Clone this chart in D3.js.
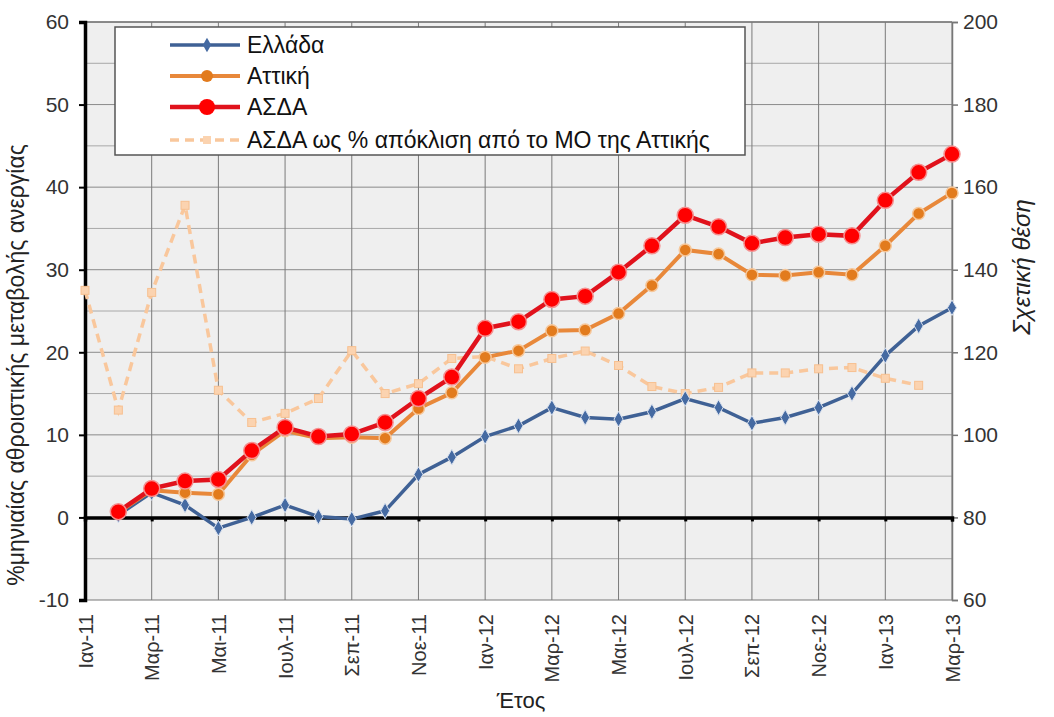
<!DOCTYPE html>
<html><head><meta charset="utf-8">
<script src="https://cdn.jsdelivr.net/npm/d3@7"></script>
<style>
body{margin:0;background:#fff;}
text{font-family:"Liberation Sans",Arial,sans-serif;}
</style></head>
<body><svg id="c" width="1054" height="717"></svg>
<script>
const months = ["Ιαν-11","Φεβ-11","Μαρ-11","Απρ-11","Μαι-11","Ιουν-11","Ιουλ-11","Αυγ-11","Σεπ-11","Οκτ-11","Νοε-11","Δεκ-11",
"Ιαν-12","Φεβ-12","Μαρ-12","Απρ-12","Μαι-12","Ιουν-12","Ιουλ-12","Αυγ-12","Σεπ-12","Οκτ-12","Νοε-12","Δεκ-12",
"Ιαν-13","Φεβ-13","Μαρ-13"];
const tickLabels = ["Ιαν-11","Μαρ-11","Μαι-11","Ιουλ-11","Σεπ-11","Νοε-11","Ιαν-12","Μαρ-12","Μαι-12","Ιουλ-12","Σεπ-12","Νοε-12","Ιαν-13","Μαρ-13"];
const greece = [null,0.3,3.0,1.5,-1.3,0.0,1.5,0.1,-0.2,0.8,5.2,7.3,9.8,11.1,13.3,12.1,11.9,12.8,14.4,13.3,11.4,12.1,13.3,15.0,19.6,23.2,25.4];
const attica = [null,0.6,3.3,3.0,2.8,7.6,10.5,9.6,9.7,9.6,13.2,15.1,19.4,20.2,22.6,22.7,24.7,28.1,32.4,31.9,29.4,29.3,29.7,29.4,32.9,36.8,39.3];
const asda = [null,0.7,3.5,4.4,4.6,8.1,10.9,9.8,10.1,11.5,14.4,17.0,22.9,23.7,26.4,26.8,29.7,32.9,36.6,35.2,33.2,33.9,34.3,34.1,38.4,41.8,44.0];
const deviation = [135,106,134.5,155.6,110.8,103,105.2,108.8,120.4,110,112.4,118.5,119,116,118.5,120.3,116.8,111.7,110,111.5,115,115,116,116.3,113.7,112,null];
const seriesNames = ["Ελλάδα","Αττική","ΑΣΔΑ","ΑΣΔΑ ως % απόκλιση από το ΜΟ της Αττικής"];
const leftTicks = [-10,0,10,20,30,40,50,60];
const rightTicks = [60,80,100,120,140,160,180,200];

const svg = d3.select("#c");
const L=85,R=952,T=22,B=600;
const x = d3.scalePoint().domain(months).range([L,R]);
const y = d3.scaleLinear().domain([-10,60]).range([B,T]);
const y2 = d3.scaleLinear().domain([60,200]).range([B,T]);

svg.append("rect").attr("x",L).attr("y",T).attr("width",R-L).attr("height",B-T).attr("fill","#efefef");
svg.append("g").selectAll("line").data(d3.range(-5,61,5)).join("line")
 .attr("x1",L).attr("x2",R).attr("y1",d=>y(d)).attr("y2",d=>y(d))
 .attr("stroke",d=>d%10===0?"#8a8a8a":"#a8a8a8").attr("stroke-width",1);
svg.append("g").selectAll("line").data(tickLabels).join("line")
 .attr("x1",d=>x(d)).attr("x2",d=>x(d)).attr("y1",T).attr("y2",B)
 .attr("stroke","#7a7a7a").attr("stroke-width",1);
svg.append("line").attr("x1",L).attr("x2",R).attr("y1",B).attr("y2",B).attr("stroke","#777");
svg.append("line").attr("x1",L).attr("x2",R).attr("y1",T).attr("y2",T).attr("stroke","#777").attr("stroke-width",1.5);

const la = svg.append("g").attr("transform",`translate(${L},0)`)
 .call(d3.axisLeft(y).tickValues(leftTicks).tickFormat(d=>String(d)).tickSize(6).tickPadding(10));
la.select(".domain").attr("stroke","#000").attr("stroke-width",3.5);
la.selectAll(".tick line").attr("stroke","#000").attr("stroke-width",2);
la.selectAll("text").attr("font-size",21).attr("fill","#333");

const ra = svg.append("g").attr("transform",`translate(${R},0)`)
 .call(d3.axisRight(y2).tickValues(rightTicks).tickFormat(d=>String(d)).tickSize(6).tickPadding(5));
ra.select(".domain").attr("stroke","#777").attr("stroke-width",1.5);
ra.selectAll(".tick line").attr("stroke","#777").attr("stroke-width",1.5);
ra.selectAll("text").attr("font-size",21).attr("fill","#333");

const xa = svg.append("g").attr("transform",`translate(0,${y(0)})`)
 .call(d3.axisBottom(x).tickValues(tickLabels).tickSize(4).tickFormat(""));
xa.select(".domain").attr("stroke","#000").attr("stroke-width",3.5);
xa.selectAll(".tick line").attr("stroke","#000").attr("stroke-width",3);
const xb = svg.append("g").attr("transform",`translate(0,${B})`)
 .call(d3.axisBottom(x).tickValues(tickLabels).tickSize(0).tickPadding(0));
xb.select(".domain").remove();
xb.selectAll("text").attr("font-size",20).attr("fill","#333")
 .attr("transform","rotate(-90)").attr("text-anchor","end").attr("dx","-14").attr("dy","0.35em").attr("y",0);

const line = d3.line().defined(d=>d!=null).x((d,i)=>x(months[i])).y(d=>y(d));
const line2 = d3.line().defined(d=>d!=null).x((d,i)=>x(months[i])).y(d=>y2(d));

const devC="#f9c79c";
svg.append("path").attr("d",line2(deviation)).attr("fill","none").attr("stroke",devC).attr("stroke-width",3.5).attr("stroke-dasharray","9,6");
svg.append("g").selectAll("rect").data(deviation.map((v,i)=>[v,i]).filter(d=>d[0]!=null)).join("rect")
 .attr("x",d=>x(months[d[1]])-4).attr("y",d=>y2(d[0])-4).attr("width",8).attr("height",8).attr("fill","#fbd3b0").attr("stroke","#f7c090");

const blueC="#3f6195";
svg.append("path").attr("d",line(greece)).attr("fill","none").attr("stroke",blueC).attr("stroke-width",3.5);
svg.append("g").selectAll("path").data(greece.map((v,i)=>[v,i]).filter(d=>d[0]!=null)).join("path")
 .attr("d",d3.symbol(d3.symbolDiamond,70)).attr("transform",d=>`translate(${x(months[d[1]])},${y(d[0])})`)
 .attr("fill","#456aa2").attr("stroke","#d9e1ee").attr("stroke-width",1);

const orC="#e8883a";
svg.append("path").attr("d",line(attica)).attr("fill","none").attr("stroke",orC).attr("stroke-width",4);
svg.append("g").selectAll("circle").data(attica.map((v,i)=>[v,i]).filter(d=>d[0]!=null)).join("circle")
 .attr("cx",d=>x(months[d[1]])).attr("cy",d=>y(d[0])).attr("r",6).attr("fill","#e27b1d").attr("stroke","#f6c79a").attr("stroke-width",1.5);

const redC="#e0121c";
svg.append("path").attr("d",line(asda)).attr("fill","none").attr("stroke",redC).attr("stroke-width",4.5);
svg.append("g").selectAll("circle").data(asda.map((v,i)=>[v,i]).filter(d=>d[0]!=null)).join("circle")
 .attr("cx",d=>x(months[d[1]])).attr("cy",d=>y(d[0])).attr("r",8).attr("fill","#ff0000").attr("stroke","#f59090").attr("stroke-width",1.5);

const lg = svg.append("g");
lg.append("rect").attr("x",115).attr("y",27).attr("width",630).attr("height",128).attr("fill","#fff").attr("stroke","#555").attr("stroke-width",1.5);
const rows=[45,76,107,140];
const lx1=170,lx2=240,lm=207;
lg.append("line").attr("x1",lx1).attr("x2",lx2).attr("y1",rows[0]).attr("y2",rows[0]).attr("stroke",blueC).attr("stroke-width",3.5);
lg.append("path").attr("d",d3.symbol(d3.symbolDiamond,60)).attr("transform",`translate(${lm},${rows[0]})`).attr("fill","#456aa2");
lg.append("line").attr("x1",lx1).attr("x2",lx2).attr("y1",rows[1]).attr("y2",rows[1]).attr("stroke",orC).attr("stroke-width",4);
lg.append("circle").attr("cx",lm).attr("cy",rows[1]).attr("r",6).attr("fill","#e27b1d");
lg.append("line").attr("x1",lx1).attr("x2",lx2).attr("y1",rows[2]).attr("y2",rows[2]).attr("stroke",redC).attr("stroke-width",4.5);
lg.append("circle").attr("cx",lm).attr("cy",rows[2]).attr("r",8).attr("fill","#ff0000");
lg.append("line").attr("x1",lx1).attr("x2",lx2).attr("y1",rows[3]).attr("y2",rows[3]).attr("stroke",devC).attr("stroke-width",3.5).attr("stroke-dasharray","9,6");
lg.append("rect").attr("x",lm-4).attr("y",rows[3]-4).attr("width",8).attr("height",8).attr("fill","#fbd3b0");
lg.selectAll("text.l").data(seriesNames).join("text").attr("class","l")
 .attr("x",247).attr("y",(d,i)=>rows[i]).attr("dy","0.35em").attr("font-size",23).attr("fill","#111").text(d=>d);

svg.append("text").attr("transform","translate(24,365) rotate(-90)").attr("text-anchor","middle")
 .attr("font-size",23).attr("fill","#222").text("%μηνιαίας αθροιστικής μεταβολής ανεργίας");
svg.append("text").attr("transform","translate(1030,267) rotate(-90)").attr("text-anchor","middle")
 .attr("font-size",24).attr("font-style","italic").attr("fill","#222").text("Σχετική θέση");
svg.append("text").attr("x",521).attr("y",708).attr("text-anchor","middle").attr("font-size",22).attr("fill","#222").text("Έτος");
</script></body></html>
